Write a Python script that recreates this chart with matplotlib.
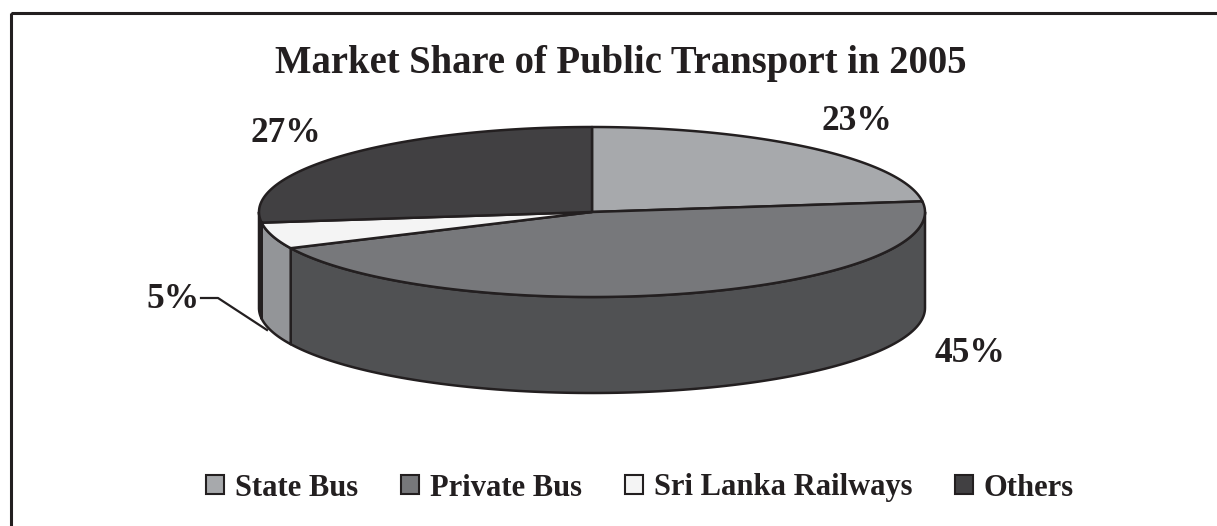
import numpy as np
import matplotlib
matplotlib.use("Agg")
import matplotlib.pyplot as plt
from matplotlib.patches import Polygon, Rectangle
from matplotlib.lines import Line2D

# ---- data ----
categories = ["State Bus", "Private Bus", "Sri Lanka Railways", "Others"]
shares = [23, 45, 5, 27]
label_texts = ["23%", "45%", "5%", "27%"]

# ---- styles ----
top_colors = ["#A7A9AC", "#77787B", "#F4F4F4", "#414042"]
side_colors = ["#7C7E81", "#505153", "#939598", "#2E2E30"]
label_pos = [(857, 121), (970, 354), (173, 300), (286, 134)]

W, H = 1217, 526
fig = plt.figure(figsize=(W / 100, H / 100), dpi=100)
ax = fig.add_axes([0, 0, 1, 1])
ax.set_xlim(0, W)
ax.set_ylim(H, 0)
ax.axis("off")

font = "Liberation Serif"

# frame (only top and left edges visible in reference)
ax.add_patch(Rectangle((11, 13), W + 20, H + 20, fill=False, lw=2.2,
                       edgecolor="#231F20", zorder=1))

cx, cy, a, b, h = 592.0, 212.0, 333.0, 85.0, 96.0

def pt(theta_deg, dy=0.0):
    t = np.radians(theta_deg)
    return cx + a * np.sin(t), cy - b * np.cos(t) + dy

total = float(sum(shares))
bounds = np.concatenate([[0], np.cumsum(shares)]) / total * 360.0

# side walls (front half: 90..270 deg)
for i in range(len(shares)):
    t0, t1 = bounds[i], bounds[i + 1]
    s0, s1 = max(t0, 90.0), min(t1, 270.0)
    if s1 <= s0:
        continue
    ts = np.linspace(s0, s1, 120)
    top = [pt(t) for t in ts]
    bot = [pt(t, h) for t in ts[::-1]]
    ax.add_patch(Polygon(top + bot, closed=True, facecolor=side_colors[i],
                         edgecolor="#231F20", lw=1.8, joinstyle="round", zorder=2))

# top faces
for i in range(len(shares)):
    t0, t1 = bounds[i], bounds[i + 1]
    ts = np.linspace(t0, t1, 200)
    poly = [(cx, cy)] + [pt(t) for t in ts]
    ax.add_patch(Polygon(poly, closed=True, facecolor=top_colors[i],
                         edgecolor="#231F20", lw=1.8, joinstyle="round", zorder=3))

# labels
for txt, (x, y) in zip(label_texts, label_pos):
    ax.text(x, y, txt, ha="center", va="center", fontsize=25.5,
            fontweight="bold", family=font, color="#231F20", zorder=5)

# leader line for the small slice
ax.add_line(Line2D([201, 218, 267], [298, 298, 330], color="#231F20", lw=1.6, zorder=5))

# title
ax.text(621, 63, "Market Share of Public Transport in 2005", ha="center", va="center",
        fontsize=27.8, fontweight="bold", family=font, color="#231F20")

# legend
handles = [Rectangle((0, 0), 1, 1, facecolor=c, edgecolor="#231F20", lw=1.5)
           for c in top_colors]
leg = fig.legend(handles, categories, loc="center", bbox_to_anchor=(640 / W, 1 - 488 / H),
                 ncol=4, frameon=False, handlelength=0.6, handleheight=0.6,
                 handletextpad=0.35, columnspacing=1.4,
                 prop={"family": font, "weight": "bold", "size": 22})
for t in leg.get_texts():
    t.set_color("#231F20")

fig.savefig("out.png", dpi=100, facecolor="white")
